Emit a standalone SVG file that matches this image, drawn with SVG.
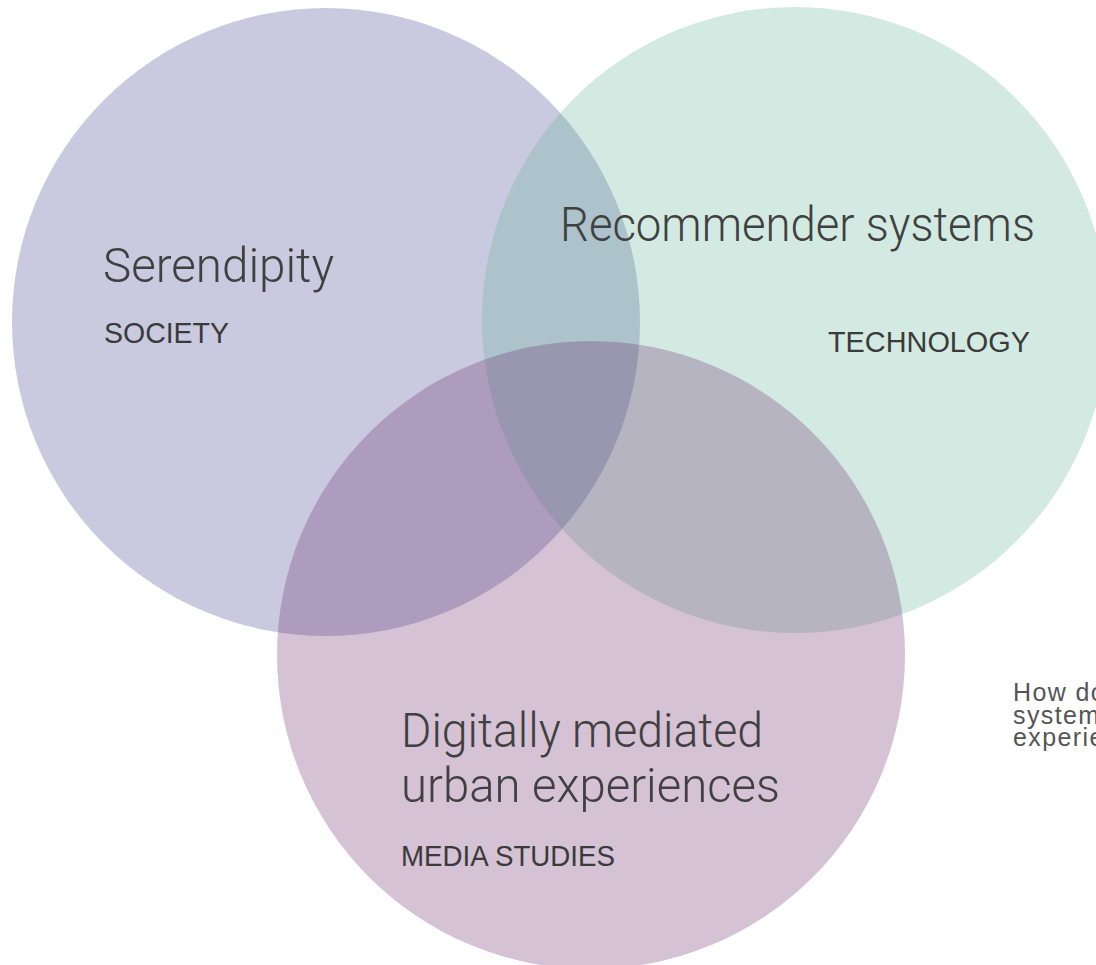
<svg xmlns="http://www.w3.org/2000/svg" width="1096" height="965" viewBox="0 0 1096 965">
  <style>
    .disc { fill-opacity: 0.28; }
    .title { font-family: Roboto, "Liberation Sans", Arial, sans-serif; font-weight: 300; font-size: 49px; fill: #404040; }
    .field { font-family: "Liberation Sans", Arial, sans-serif; font-size: 29px; fill: #3a3a3a; }
    .note { font-family: "Liberation Sans", Arial, sans-serif; font-size: 25px; letter-spacing: 1.4px; fill: #555555; }
  </style>
  <rect width="1096" height="965" fill="#ffffff"/>

  <g id="society">
    <circle class="disc" cx="326" cy="322" r="314" fill="#3e428d"/>
    <text class="title" x="103" y="282" textLength="231" lengthAdjust="spacingAndGlyphs">Serendipity</text>
    <text class="field" x="104" y="343" textLength="125" lengthAdjust="spacingAndGlyphs">SOCIETY</text>
  </g>

  <g id="technology">
    <circle class="disc" cx="795" cy="320" r="313" fill="#62b497"/>
    <text class="title" x="560" y="241" textLength="475" lengthAdjust="spacingAndGlyphs">Recommender systems</text>
    <text class="field" x="828" y="352" textLength="202" lengthAdjust="spacingAndGlyphs">TECHNOLOGY</text>
  </g>

  <g id="media-studies">
    <circle class="disc" cx="591" cy="655" r="314" fill="#692969"/>
    <text class="title" x="401" y="747" textLength="362" lengthAdjust="spacingAndGlyphs">Digitally mediated</text>
    <text class="title" x="401" y="802" textLength="379" lengthAdjust="spacingAndGlyphs">urban experiences</text>
    <text class="field" x="401" y="866" textLength="214" lengthAdjust="spacingAndGlyphs">MEDIA STUDIES</text>
  </g>

  <g id="question">
    <text class="note" x="1013" y="701">How do<tspan x="1013" y="724">system</tspan><tspan x="1013" y="746">experie</tspan></text>
  </g>

  <g id="connectors"/>
</svg>
